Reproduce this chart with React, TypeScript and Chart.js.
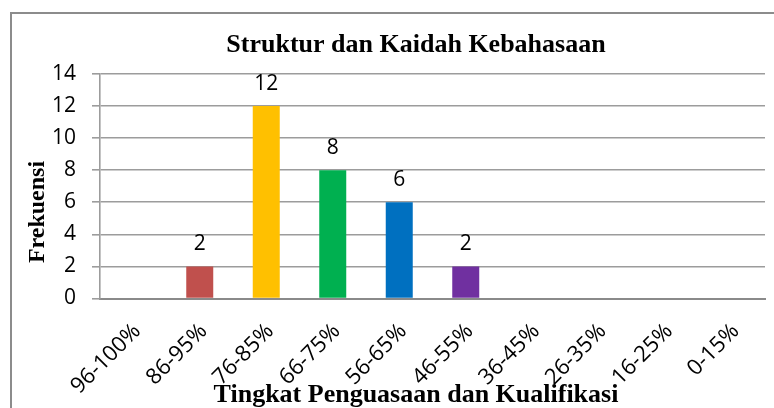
import React, { useEffect, useRef } from 'react';
import { Chart, registerables } from 'chart.js';

Chart.register(...registerables);

const categories = ['96-100%', '86-95%', '76-85%', '66-75%', '56-65%', '46-55%', '36-45%', '26-35%', '16-25%', '0-15%'];
const frequencies = [0, 2, 12, 8, 6, 2, 0, 0, 0, 0];
const barColors = ['#4F81BD', '#C0504D', '#FFC000', '#00B050', '#0070C0', '#7030A0', '#4F81BD', '#4F81BD', '#4F81BD', '#4F81BD'];
const yMin = 0;
const yMax = 14;
const yStep = 2;
const chartTitle = 'Struktur dan Kaidah Kebahasaan';
const xAxisTitle = 'Tingkat Penguasaan dan Kualifikasi';
const yAxisTitle = 'Frekuensi';

const SANS = '"Open Sans", "DejaVu Sans", sans-serif';
const SERIF = '"Liberation Serif", "Times New Roman", serif';

const decorPlugin = {
  id: 'decor',
  beforeDraw(chart: any) {
    const ctx = chart.ctx;
    ctx.save();
    ctx.fillStyle = '#ffffff';
    ctx.fillRect(0, 0, chart.width, chart.height);
    ctx.strokeStyle = '#8C8C8C';
    ctx.lineWidth = 2;
    ctx.strokeRect(11, 13, chart.width + 40, chart.height + 40);
    ctx.restore();
  },
  afterDatasetsDraw(chart: any) {
    const ctx = chart.ctx;
    const meta = chart.getDatasetMeta(0);
    ctx.save();
    ctx.fillStyle = '#000000';
    ctx.font = `21px ${SANS}`;
    ctx.textAlign = 'center';
    ctx.textBaseline = 'alphabetic';
    meta.data.forEach((bar: any, i: number) => {
      const v = frequencies[i];
      if (v > 0) {
        ctx.fillText(String(v), bar.x, bar.y - 16);
      }
    });
    ctx.restore();
  },
  afterDraw(chart: any) {
    const ctx = chart.ctx;
    ctx.save();
    ctx.fillStyle = '#000000';
    ctx.textAlign = 'center';
    ctx.textBaseline = 'alphabetic';
    ctx.font = `bold 26px ${SERIF}`;
    ctx.fillText(chartTitle, 416, 52);
    ctx.fillText(xAxisTitle, 416, 402);
    ctx.translate(44, 212);
    ctx.rotate(-Math.PI / 2);
    ctx.font = `bold 24px ${SERIF}`;
    ctx.fillText(yAxisTitle, 0, 0);
    ctx.restore();
  },
};

export default function App() {
  const canvasRef = useRef<HTMLCanvasElement | null>(null);

  useEffect(() => {
    const canvas = canvasRef.current;
    if (!canvas) return;
    const chart = new Chart(canvas, {
      type: 'bar',
      data: {
        labels: categories,
        datasets: [
          {
            data: frequencies,
            backgroundColor: barColors,
            borderWidth: 0,
            barPercentage: 0.406,
            categoryPercentage: 1,
          },
        ],
      },
      options: {
        responsive: false,
        animation: false,
        events: [],
        layout: { padding: { top: 74, right: 9, bottom: 0, left: 0 } },
        plugins: {
          legend: { display: false },
          title: { display: false },
          tooltip: { enabled: false },
        },
        scales: {
          x: {
            grid: { display: false, drawTicks: false },
            border: { display: true, color: '#8A8A8A', width: 2 },
            ticks: {
              autoSkip: false,
              maxRotation: 45,
              minRotation: 45,
              padding: 20,
              labelOffset: 4,
              color: '#000000',
              font: { family: SANS, size: 22 },
            },
            afterFit(scale: any) {
              scale.height = 109.5;
            },
          },
          y: {
            min: yMin,
            max: yMax,
            ticks: {
              stepSize: yStep,
              padding: 16,
              color: '#000000',
              font: { family: SANS, size: 21 },
            },
            grid: {
              color: '#9C9C9C',
              lineWidth: 1.6,
              drawTicks: true,
              tickLength: 8,
            },
            border: { display: true, color: '#9C9C9C', width: 1.6 },
            afterFit(scale: any) {
              scale.width = 100;
            },
          },
        },
      },
      plugins: [decorPlugin],
    });
    return () => chart.destroy();
  }, []);

  return (
    <div style={{ position: 'absolute', left: 0, top: 0, width: 774, height: 408, background: '#fff' }}>
      <canvas ref={canvasRef} width={774} height={408} style={{ display: 'block', width: 774, height: 408 }} />
    </div>
  );
}
